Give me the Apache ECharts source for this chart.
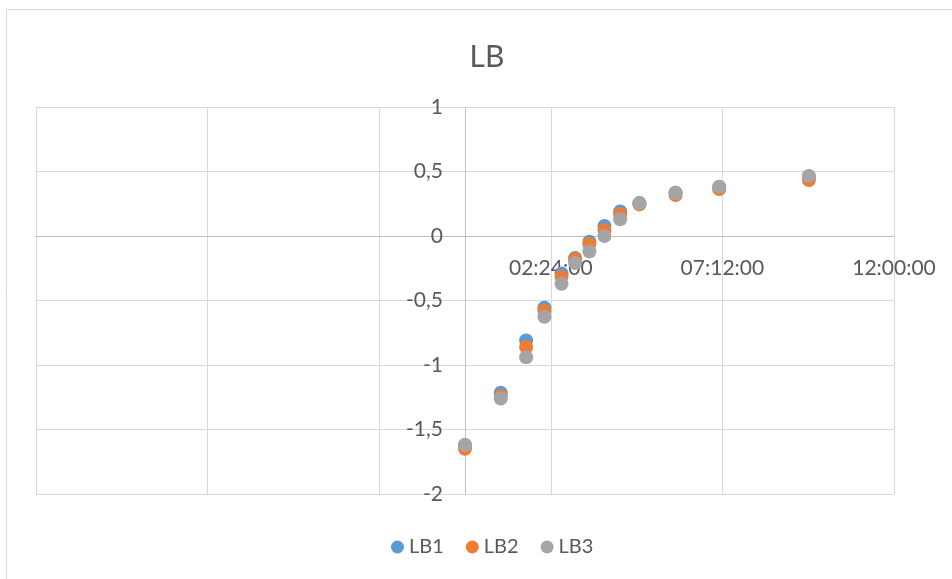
<!DOCTYPE html>
<html>
<head>
<meta charset="utf-8">
<script src="https://cdn.jsdelivr.net/npm/echarts@6/dist/echarts.min.js"></script>
<style>html,body{margin:0;padding:0;background:#fff}#c{width:952px;height:579px}</style>
</head>
<body>
<div id="c"></div>
<script>
// time in hours
const hours = [0, 1.0, 1.71, 2.22, 2.70, 3.08, 3.48, 3.90, 4.34, 4.88, 5.89, 7.11, 9.62];
const lb1 = [-1.62, -1.215, -0.81, -0.556, -0.29, -0.17, -0.045, 0.078, 0.19, 0.255, 0.335, 0.38, 0.46];
const lb2 = [-1.65, -1.24, -0.86, -0.58, -0.315, -0.18, -0.062, 0.047, 0.17, 0.245, 0.318, 0.364, 0.434];
const lb3 = [-1.62, -1.26, -0.94, -0.626, -0.37, -0.21, -0.12, 0.0, 0.13, 0.253, 0.331, 0.382, 0.465];
const seriesNames = ['LB1', 'LB2', 'LB3'];
const colors = ['#5B9BD5', '#ED7D31', '#A5A5A5'];

function pad(n){ return (n < 10 ? '0' : '') + n; }
function fmtTime(v){
  if (v < -1e-9) return '';
  const s = Math.round(v * 3600);
  const h = Math.floor(s / 3600), m = Math.floor((s % 3600) / 60), sec = s % 60;
  return pad(h) + ':' + pad(m) + ':' + pad(sec);
}

const font = 'Lato, "Noto Sans", sans-serif';
const chart = echarts.init(document.getElementById('c'));
const allData = [lb1, lb2, lb3];
chart.setOption({
  animation: false,
  backgroundColor: '#fff',
  graphic: [
    { type: 'rect', shape: { x: 6.5, y: 9.5, width: 1200, height: 1200 }, style: { fill: 'none', stroke: '#D9D9D9', lineWidth: 1 }, silent: true },
    { type: 'text', x: 487, y: 57, style: { text: 'LB', fill: '#595959', font: '30px ' + font, textAlign: 'center', textVerticalAlign: 'middle' } }
  ],
  legend: {
    left: 386, top: 532, icon: 'circle', itemWidth: 13, itemHeight: 13, itemGap: 22,
    textStyle: { color: '#595959', fontSize: 20, fontFamily: font },
    data: seriesNames
  },
  grid: { left: 36, right: 58, top: 107, bottom: 85, outerBoundsMode: 'none', containLabel: false },
  xAxis: {
    type: 'value', min: -12, max: 12, interval: 4.8,
    position: 'bottom', offset: -257.5,
    axisLine: { onZero: false, lineStyle: { color: '#BFBFBF' } },
    axisTick: { show: false },
    axisLabel: { color: '#595959', fontSize: 21, fontFamily: font, margin: 21, formatter: fmtTime, showMinLabel: true, showMaxLabel: true },
    splitLine: { show: true, lineStyle: { color: '#D9D9D9' } }
  },
  yAxis: {
    type: 'value', min: -2, max: 1, interval: 0.5,
    position: 'left', offset: -429,
    axisLine: { show: true, onZero: false, lineStyle: { color: '#BFBFBF' } },
    axisTick: { show: false },
    axisLabel: { color: '#595959', fontSize: 21, fontFamily: font, margin: 22, formatter: v => String(v).replace('.', ',') },
    splitLine: { show: true, lineStyle: { color: '#D9D9D9' } }
  },
  series: seriesNames.map((n, i) => ({
    name: n, type: 'scatter', symbol: 'circle', symbolSize: 14,
    itemStyle: { color: colors[i], opacity: 1 },
    data: hours.map((h, j) => [h, allData[i][j]])
  }))
});
</script>
</body>
</html>
